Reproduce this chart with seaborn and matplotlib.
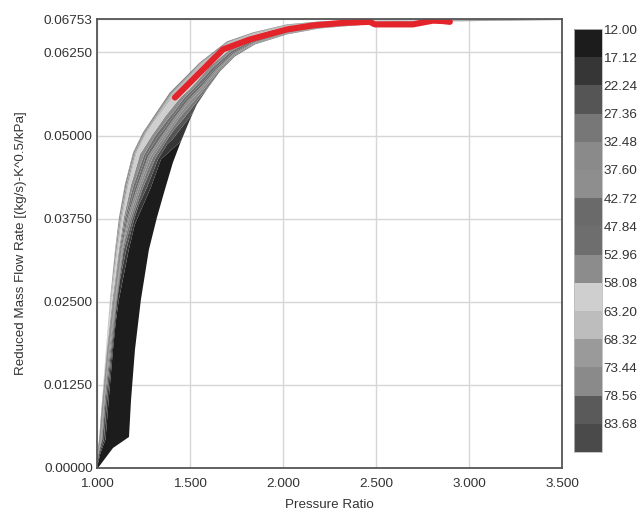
import numpy as np
import seaborn as sns
import matplotlib.pyplot as plt

# efficiency levels shown on the colour bar (top to bottom)
eff_levels = [12.00, 17.12, 22.24, 27.36, 32.48, 37.60, 42.72, 47.84,
              52.96, 58.08, 63.20, 68.32, 73.44, 78.56, 83.68, 88.80]
eff_colors = ['#1c1c1c', '#363636', '#555555', '#777777', '#8a8a8a',
              '#8e8e8e', '#6a6a6a', '#6e6e6e', '#8c8c8c', '#cfcfcf',
              '#bdbdbd', '#9a9a9a', '#8a8a8a', '#5a5a5a', '#4a4a4a']

# outer (upper-left) edge of the map band
upper_pr = [1.000, 1.000, 1.011, 1.027, 1.048, 1.070, 1.097, 1.118, 1.150, 1.194, 1.247,
            1.312, 1.392, 1.473, 1.553, 1.699, 1.838, 2.021, 2.199, 2.521, 2.897, 3.500]
upper_flow = [0.00015, 0.00196, 0.00422, 0.01024, 0.01777, 0.02530, 0.03283, 0.03765,
              0.04262, 0.04744, 0.05045, 0.05316, 0.05648, 0.05874, 0.06100, 0.06416,
              0.06551, 0.06672, 0.06717, 0.06747, 0.06753, 0.06753]
# inner (lower-right) edge of the map band
lower_pr = [1.005, 1.086, 1.172, 1.183, 1.204, 1.236, 1.279, 1.322, 1.365, 1.408, 1.451,
            1.500, 1.537, 1.591, 1.661, 1.742, 1.849, 2.021, 2.198, 2.521, 2.897, 3.500]
lower_flow = [0.00000, 0.00301, 0.00467, 0.01024, 0.01777, 0.02530, 0.03283, 0.03765,
              0.04187, 0.04593, 0.04910, 0.05241, 0.05467, 0.05693, 0.05964, 0.06190,
              0.06370, 0.06521, 0.06611, 0.06687, 0.06717, 0.06738]

# efficiency read across the band (outer edge -> inner edge)
band_pos = [0.0, 0.1, 0.25, 0.45, 0.7, 1.0]
efficiency = [
    [45, 20, 13, 12.5, 12.5, 12.5],
    [50, 25, 14, 12.5, 12.5, 12.5],
    [55, 28, 14, 12.5, 12.5, 12.5],
    [60, 30, 15, 12.5, 12.5, 12.5],
    [65, 40, 16, 13, 12.5, 12.5],
    [70, 55, 18, 13, 12.5, 12.5],
    [75, 61, 28, 14, 12.5, 12.5],
    [78, 62, 40, 18, 13, 12.5],
    [80, 62, 50, 28, 14, 13],
    [80, 61, 55, 36, 17, 14],
    [81, 62, 58, 45, 24, 17],
    [82, 64, 60, 52, 32, 20],
    [82, 66, 61, 57, 40, 24],
    [82, 67, 61, 59, 46, 26],
    [82, 67, 61, 59, 50, 28],
    [82, 67, 61, 59, 50, 28],
    [82, 67, 61, 59, 50, 28],
    [82, 67, 61, 59, 50, 28],
    [82, 67, 61, 59, 50, 28],
    [82, 67, 61, 59, 50, 28],
    [82, 67, 61, 59, 50, 28],
    [82, 67, 61, 59, 50, 28],
]

# operating line (red)
op_pr = [1.419, 1.677, 1.822, 2.021, 2.161, 2.322, 2.467, 2.494, 2.698, 2.752, 2.806, 2.859, 2.897]
op_flow = [0.05572, 0.06295, 0.06446, 0.06596, 0.06657, 0.06695, 0.06710, 0.06672,
           0.06672, 0.06700, 0.06728, 0.06722, 0.06710]

x_ticks = [1.0, 1.5, 2.0, 2.5, 3.0, 3.5]
y_ticks = [0.0, 0.0125, 0.025, 0.0375, 0.05, 0.0625, 0.06753]

sns.set_style("whitegrid", {"grid.color": "#d6d6d6", "axes.edgecolor": "#555555"})
plt.rcParams['font.family'] = ['Liberation Sans', 'DejaVu Sans']

fig = plt.figure(figsize=(6.37, 5.13), dpi=100)
ax = fig.add_axes([97/637, 1-468/513, 465/637, 449/513])

t = np.array(band_pos)[None, :]
X = np.array(upper_pr)[:, None] + (np.array(lower_pr) - np.array(upper_pr))[:, None] * t
Y = np.array(upper_flow)[:, None] + (np.array(lower_flow) - np.array(upper_flow))[:, None] * t
Z = np.array(efficiency, dtype=float)

cs = ax.contourf(X, Y, Z, levels=eff_levels, colors=eff_colors, antialiased=True)

sns.lineplot(x=op_pr, y=op_flow, ax=ax, color='#e3242b', lw=4.4, sort=False,
             estimator=None, solid_capstyle='round')

ax.set_xlim(1.0, 3.5)
ax.set_ylim(0.0, 0.06753)
ax.set_xticks(x_ticks)
ax.set_yticks(y_ticks)
ax.set_xticklabels(['%.3f' % v for v in x_ticks])
ax.set_yticklabels(['%.5f' % v for v in y_ticks])
ax.tick_params(length=0, labelsize=9.7, colors='#333333')
ax.tick_params(axis='x', pad=7)
ax.tick_params(axis='y', pad=3)
ax.grid(True, lw=1.0)
for s in ax.spines.values():
    s.set_linewidth(1.3)
ax.set_xlabel('Pressure Ratio', fontsize=9.6, color='#333333', labelpad=7)
ax.set_ylabel('Reduced Mass Flow Rate [(kg/s)-K^0.5/kPa]', fontsize=9.6,
              color='#333333', labelpad=12)

cax = fig.add_axes([574/637, 1-452/513, 28/637, 423/513])
cb = fig.colorbar(cs, cax=cax)
cb.set_ticks(eff_levels[:-1])
cb.set_ticklabels(['%.2f' % v for v in eff_levels[:-1]])
cax.invert_yaxis()
cax.tick_params(length=0, labelsize=9.7, colors='#333333', pad=1)
cb.outline.set_edgecolor('#bbbbbb')
cb.outline.set_linewidth(0.6)

fig.savefig('out.png', dpi=100)
